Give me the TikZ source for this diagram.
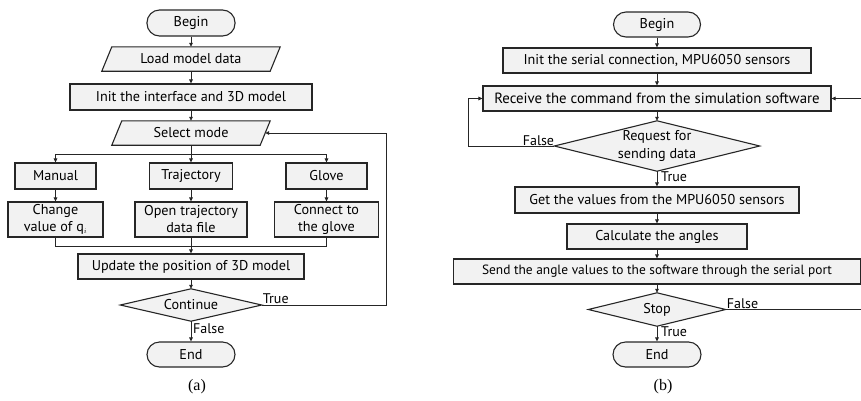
\documentclass[tikz,border=0pt]{standalone}
\usepackage{fontspec}
\setmainfont{PT Sans}
\newfontfamily\capfont{Liberation Serif}
\usetikzlibrary{arrows.meta,backgrounds,calc}
\definecolor{boxfill}{HTML}{F2F2F2}
\definecolor{edge}{HTML}{262626}
\begin{document}
\begin{tikzpicture}[x=1pt,y=-1pt,
  every node/.style={font=\fontsize{14.2}{17}\selectfont, inner sep=0pt},
  box/.style={draw=edge, fill=boxfill, line width=1.1pt, rectangle, align=center},
  term/.style={box, rounded corners=12.5pt},
  ghost/.style={rectangle, draw=none, align=center},
  shp/.style={draw=edge, fill=boxfill, line width=1.1pt, line join=miter},
  con/.style={draw=edge, line width=0.8pt},
  arr/.style={con, -{Triangle[length=4pt,width=3.6pt]}},
  lbl/.style={font=\fontsize{14}{17}\selectfont},
  captxt/.style={font=\capfont\fontsize{16}{18}\selectfont}]
\useasboundingbox (0,0) rectangle (861,400);

% ---------- (a) ----------
\node[term, minimum width=88, minimum height=26] (beginA) at (191,23) {Begin};
\node[ghost, minimum width=168, minimum height=24] (load) at (191,59) {Load model data};
\node[box, minimum width=242, minimum height=26] (initA) at (191,97) {Init the interface and 3D model};
\node[ghost, minimum width=148, minimum height=24] (sel) at (191,133) {Select mode};
\node[box, minimum width=81, minimum height=26] (manual) at (55.5,176) {Manual};
\node[box, minimum width=83, minimum height=26] (traj) at (191,176) {Trajectory};
\node[box, minimum width=81, minimum height=26] (glove) at (326.5,176) {Glove};
\node[box, minimum width=95, minimum height=35] (change) at (55.5,219.5) {Change\\value of q$_{\scriptscriptstyle i}$};
\node[box, minimum width=112, minimum height=35] (open) at (191,219.5) {Open trajectory\\data file};
\node[box, minimum width=104, minimum height=35] (connect) at (326.5,219.5) {Connect to\\the glove};
\node[box, minimum width=226, minimum height=25] (update) at (191,266.5) {Update the position of 3D model};
\node[ghost, minimum width=141, minimum height=32] (cont) at (191,305) {Continue};
\node[term, minimum width=88, minimum height=25] (endA) at (191,354.5) {End};
\coordinate (split) at (191,154);
\coordinate (merge) at (191,246);
\coordinate (loopA) at (386,305);

\begin{scope}[on background layer]
\draw[shp] ($(load.north west)+(5,0)$) -- ($(load.north east)+(5,0)$) -- ($(load.south east)+(-5,0)$) -- ($(load.south west)+(-5,0)$) -- cycle;
\draw[shp] ($(sel.north west)+(5,0)$) -- ($(sel.north east)+(5,0)$) -- ($(sel.south east)+(-5,0)$) -- ($(sel.south west)+(-5,0)$) -- cycle;
\draw[shp] (cont.north) -- (cont.east) -- (cont.south) -- (cont.west) -- cycle;
\end{scope}

\draw[arr] (beginA) -- (load);
\draw[arr] (load) -- (initA);
\draw[arr] (initA) -- (sel.north);
\draw[arr] (sel.south) -- (traj.north);
\draw[arr] (split) -| (manual.north);
\draw[arr] (split) -| (glove.north);
\draw[arr] (manual) -- (change);
\draw[arr] (traj) -- (open);
\draw[arr] (glove) -- (connect);
\draw[con] (change.south) |- (merge);
\draw[con] (connect.south) |- (merge);
\draw[arr] (open.south) -- (update.north);
\draw[arr] (update) -- (cont.north);
\draw[arr] (cont.east) -- (loopA) |- (sel.east);
\draw[arr] (cont.south) -- (endA);
\node[lbl, anchor=south west] (tA) at ($(cont.east)+(1,-1)$) {True};
\node[lbl, anchor=west] (fA) at (193,329) {False};
\node[captxt] (capA) at (197,387) {(a)};

% ---------- (b) ----------
\node[term, minimum width=87, minimum height=25] (beginB) at (657,24.5) {Begin};
\node[box, minimum width=308, minimum height=25] (initB) at (657,60.5) {Init the serial connection, MPU6050 sensors};
\node[box, minimum width=348, minimum height=25, font=\fontsize{14.8}{17}\selectfont] (recv) at (657,98.5) {Receive the command from the simulation software};
\node[ghost, minimum width=205, minimum height=50, font=\fontsize{14.2}{18.5}\selectfont] (req) at (657,146) {Request for\\sending data};
\node[box, minimum width=284, minimum height=26] (get) at (657,200) {Get the values from the MPU6050 sensors};
\node[box, minimum width=180, minimum height=25] (calc) at (657,236.5) {Calculate the angles};
\node[box, minimum width=407, minimum height=25, font=\fontsize{13.4}{17}\selectfont] (send) at (657,271.5) {Send the angle values to the software through the serial port};
\node[ghost, minimum width=137, minimum height=33] (stop) at (657,309.5) {Stop};
\node[term, minimum width=88, minimum height=25] (endB) at (657,354.5) {End};
\coordinate (loopF) at (468,146);
\coordinate (loopR) at (866,309.5);

\begin{scope}[on background layer]
\draw[shp] (req.north) -- (req.east) -- (req.south) -- (req.west) -- cycle;
\draw[shp] (stop.north) -- (stop.east) -- (stop.south) -- (stop.west) -- cycle;
\end{scope}

\draw[arr] (beginB) -- (initB);
\draw[arr] (initB) -- (recv);
\draw[arr] (recv) -- (req.north);
\draw[arr] (req.west) -- (loopF) |- (recv.west);
\draw[arr] (req.south) -- (get);
\draw[arr] (get) -- (calc);
\draw[arr] (calc) -- (send);
\draw[arr] (send) -- (stop.north);
\draw[arr] (stop.east) -- (loopR) |- (recv.east);
\draw[arr] (stop.south) -- (endB);
\node[lbl, anchor=south east] (fB1) at ($(req.west)+(0,0)$) {False};
\node[lbl, anchor=west] (tB1) at (661,177) {True};
\node[lbl, anchor=south west] (fB2) at ($(stop.east)+(1,-1)$) {False};
\node[lbl, anchor=west] (tB2) at (661,332) {True};
\node[captxt] (capB) at (663,387) {(b)};
\end{tikzpicture}
\end{document}
